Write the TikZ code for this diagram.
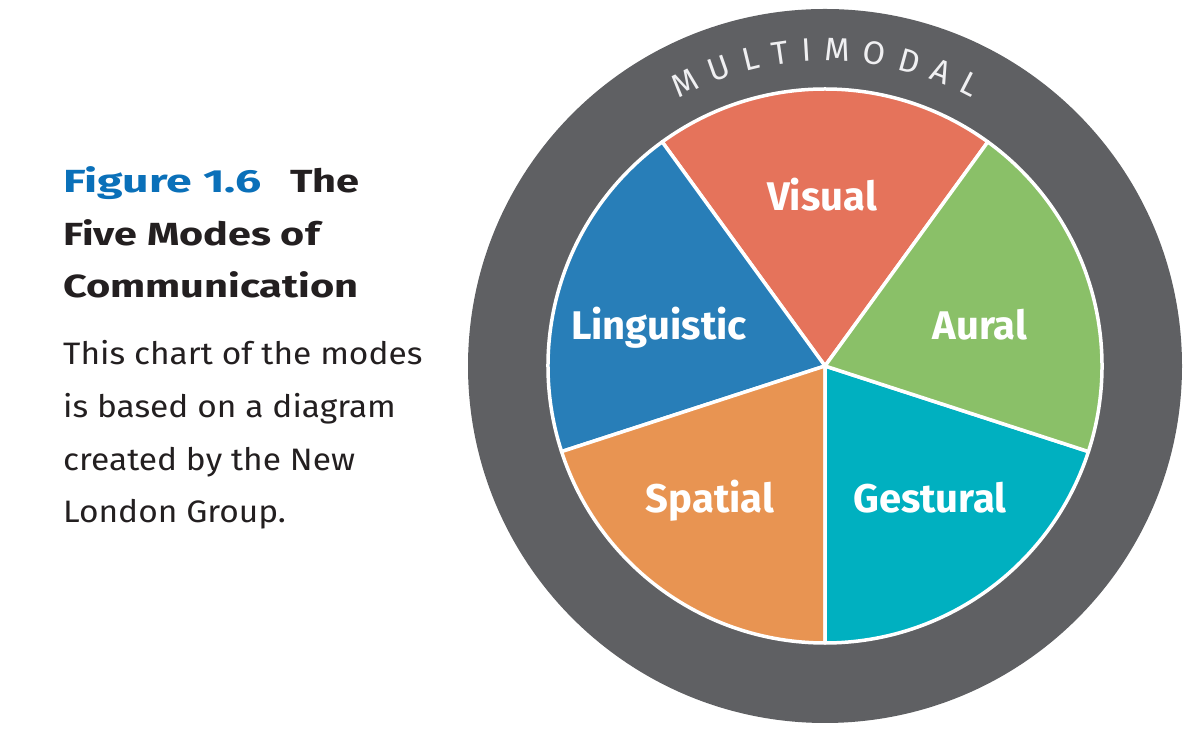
\documentclass[tikz,border=0pt]{standalone}
\usepackage{fontspec}
\usepackage{graphicx}
\usetikzlibrary{calc,decorations.text}
\setmainfont{Fira Sans}
\newfontfamily\ringfont[WordSpace=1.45]{Fira Sans}
\newcommand\hsc[2]{\scalebox{#1}[1]{#2}}
\definecolor{ring}{RGB}{95,96,99}
\definecolor{visual}{RGB}{229,115,91}
\definecolor{aural}{RGB}{138,192,104}
\definecolor{ling}{RGB}{40,126,184}
\definecolor{spatial}{RGB}{232,148,82}
\definecolor{gest}{RGB}{0,176,192}
\definecolor{figblue}{RGB}{10,112,185}
\definecolor{ink}{RGB}{35,31,32}
\definecolor{ringtext}{RGB}{240,240,242}
\begin{document}
\begin{tikzpicture}[x=1pt,y=1pt,
  lab/.style={text=white, font=\fontsize{40}{44}\selectfont\bfseries, anchor=base, inner sep=0pt},
  ttl/.style={text=ink, font=\fontsize{32}{36}\selectfont\bfseries, anchor=base west, inner sep=0pt},
  bdy/.style={text=ink, font=\fontsize{31}{34}\selectfont, anchor=base west, inner sep=0pt},
  slice/.style={draw=white, line width=3.5pt, line join=round}]
\useasboundingbox (0,0) rectangle (1200,735);
\fill[white] (0,0) rectangle (1200,735);
\coordinate (O) at (825,369);
\fill[ring] (O) circle (357);
\foreach \a/\b/\c in {54/126/visual,126/198/ling,198/270/spatial,270/342/gest,342/414/aural}
  \filldraw[fill=\c, slice] (O) -- ++(\a:277) arc[start angle=\a, end angle=\b, radius=277] -- cycle;
\node[lab] (lvisual) at (822,524) {Visual};
\node[lab] (lling) at (659,395) {Linguistic};
\node[lab] (laural) at (980,395) {Aural};
\node[lab] (lspatial) at (710,222) {Spatial};
\node[lab] (lgest) at (930,222) {Gestural};
\path[decorate, decoration={text along path, text align=center,
    text={|\ringfont\fontsize{32.5}{34}\selectfont\color{ringtext}|M U L T I M O D A L}}]
  ($(O)+(150:305)$) arc[start angle=150, end angle=30, radius=305];
\node[ttl] (t1) at (63,542) {\textcolor{figblue}{\hsc{1.45}{Figure 1.6}}\hspace{29pt}\hsc{1.3}{The}};
\node[ttl] (t2) at (63,489) {\hsc{1.29}{Five Modes of}};
\node[ttl] (t3) at (63,437) {\hsc{1.3}{Communication}};
\node[bdy] (b1) at (63,370) {\hsc{1.08}{This chart of the modes}};
\node[bdy] (b2) at (63,317) {\hsc{1.08}{is based on a diagram}};
\node[bdy] (b3) at (63,264) {\hsc{1.08}{created by the New}};
\node[bdy] (b4) at (63,212) {\hsc{1.08}{London Group.}};
\end{tikzpicture}
\end{document}
